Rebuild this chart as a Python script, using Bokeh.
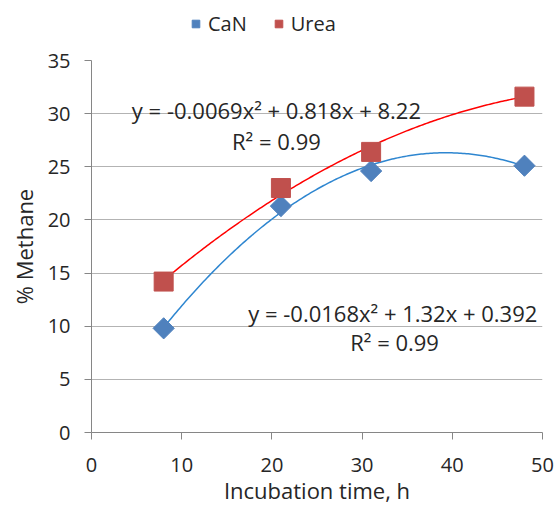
import numpy as np
from bokeh.plotting import figure
from bokeh.layouts import column
from bokeh.models import Legend, LegendItem, Label, Range1d, FixedTicker
from bokeh.embed import file_html
from bokeh.resources import INLINE

# ---- data ----
time_h = [8, 21, 31, 48]
can_methane = [9.8, 21.3, 24.6, 25.1]
urea_methane = [14.2, 23.0, 26.4, 31.6]

# trendline coefficients as shown in the chart (a*x^2 + b*x + c)
can_coef = [-0.0168, 1.32, 0.392]
urea_coef = [-0.0069, 0.818, 8.22]

series_names = ["CaN", "Urea"]
can_eq = "y = -0.0168x² + 1.32x + 0.392"
urea_eq = "y = -0.0069x² + 0.818x + 8.22"
r2_text = "R² = 0.99"

x_ticks = [0, 10, 20, 30, 40, 50]
y_ticks = [0, 5, 10, 15, 20, 25, 30, 35]

FONT = "Open Sans"
TXT = "#262626"
CAN_C = "#4F81BD"
UREA_C = "#C0504D"
DIAMOND_ANGLE = np.pi / 4

p = figure(width=558, height=459, output_backend="svg", toolbar_location=None,
           x_range=Range1d(0, 50), y_range=Range1d(0, 35),
           min_border_left=91, min_border_right=16, min_border_top=12, min_border_bottom=74)
p.outline_line_color = None
p.background_fill_color = "white"

p.xgrid.grid_line_color = None
p.ygrid.grid_line_color = "#B3B3B3"
p.ygrid.grid_line_width = 1
p.xaxis.ticker = FixedTicker(ticks=x_ticks)
p.yaxis.ticker = FixedTicker(ticks=y_ticks)
for ax in (p.xaxis, p.yaxis):
    ax.axis_line_color = "#868686"
    ax.major_tick_line_color = "#868686"
    ax.major_tick_in = 0
    ax.major_tick_out = 7
    ax.minor_tick_line_color = None
    ax.major_label_text_font = FONT
    ax.major_label_text_font_size = "20px"
    ax.major_label_text_color = TXT
    ax.axis_label_text_font = FONT
    ax.axis_label_text_font_size = "22px"
    ax.axis_label_text_color = TXT
    ax.axis_label_text_font_style = "normal"
p.xaxis.axis_label = "Incubation time, h"
p.yaxis.axis_label = "% Methane"
p.xaxis.major_label_standoff = 18
p.yaxis.major_label_standoff = 14
p.xaxis.axis_label_standoff = 0
p.yaxis.axis_label_standoff = 6

# trendlines
xs = np.linspace(min(time_h), max(time_h), 200)
can_fit = np.polyval(can_coef, xs)
urea_fit = np.polyval(urea_coef, xs)
p.line(xs, urea_fit, line_color="#FF0000", line_width=1.5)
p.line(xs, can_fit, line_color="#2E86D0", line_width=1.5)

p.scatter(time_h, can_methane, marker="square", angle=DIAMOND_ANGLE, size=15,
          fill_color=CAN_C, line_color=CAN_C)
p.scatter(time_h, urea_methane, marker="square", size=19,
          fill_color=UREA_C, line_color=UREA_C)

for txt, x, y in [(urea_eq, 20.5, 30.3), (r2_text, 20.5, 27.4),
                  (can_eq, 33.4, 11.25), (r2_text, 33.6, 8.5)]:
    p.add_layout(Label(x=x, y=y, text=txt, text_align="center", text_baseline="middle",
                       text_font=FONT, text_font_size="22px", text_color=TXT))

# ---- legend strip on top (its own renderers hold the series but lie outside its view) ----
lg = figure(width=558, height=48, output_backend="svg", toolbar_location=None,
            x_range=Range1d(1000, 1001), y_range=Range1d(1000, 1001), min_border=0,
            x_axis_location=None, y_axis_location=None)
lg.outline_line_color = None
lg.grid.grid_line_color = None
lr_can = lg.scatter(time_h, can_methane, marker="square", angle=DIAMOND_ANGLE, size=15,
                    fill_color=CAN_C, line_color=CAN_C)
lr_urea = lg.scatter(time_h, urea_methane, marker="square", size=17,
                     fill_color=UREA_C, line_color=UREA_C)
legend = Legend(items=[LegendItem(label=series_names[0], renderers=[lr_can]),
                       LegendItem(label=series_names[1], renderers=[lr_urea])],
                orientation="horizontal", location=(95, 11),
                border_line_color=None, background_fill_alpha=0,
                label_text_font=FONT, label_text_font_size="20px", label_text_color=TXT,
                glyph_width=19, glyph_height=19, spacing=22, label_standoff=3,
                padding=0, margin=0)
lg.add_layout(legend)

layout = column(lg, p, spacing=0)
open("out.html", "w").write(file_html(layout, INLINE))
